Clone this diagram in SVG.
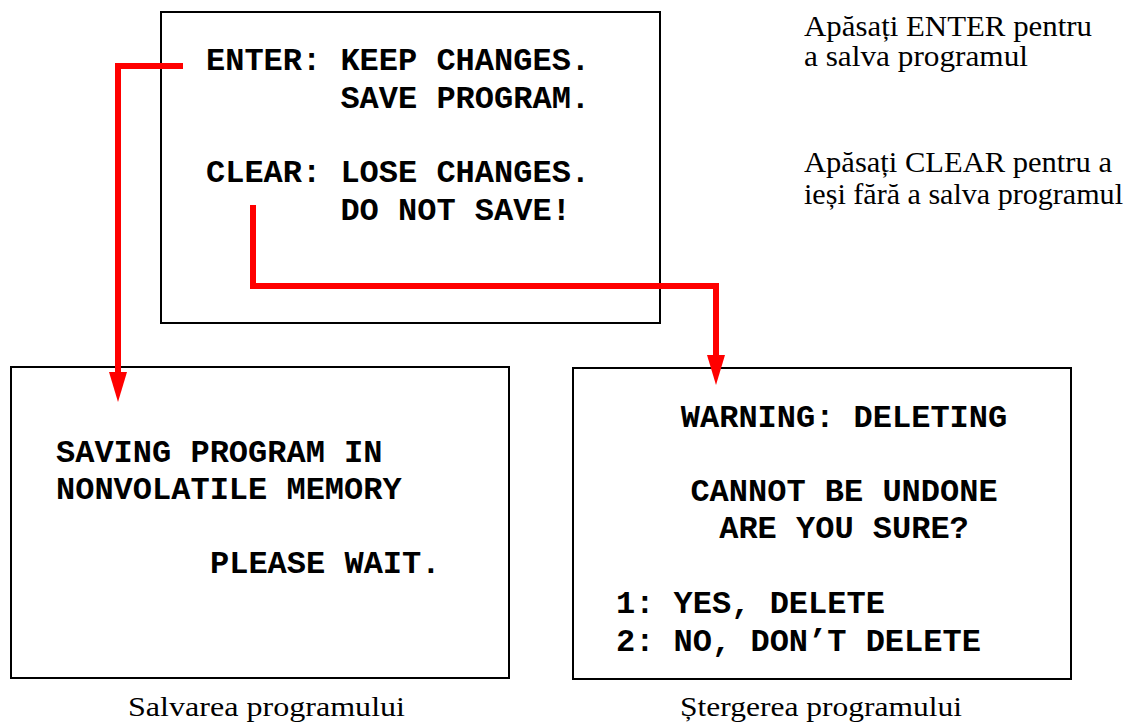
<svg xmlns="http://www.w3.org/2000/svg" width="1140" height="726" viewBox="0 0 1140 726">
<style>
.box{fill:#fff;stroke:#000;stroke-width:2}
.mono{font-family:"Liberation Mono","Courier New",monospace;font-weight:bold;font-size:32px;fill:#000}
.serif{font-family:"Liberation Serif","Times New Roman",serif;font-size:30px;fill:#000}
.cap{font-family:"Liberation Serif","Times New Roman",serif;font-size:28px;fill:#000}
.wire{fill:none;stroke:#ff0000;stroke-width:6;stroke-linejoin:miter;stroke-linecap:butt}
.head{fill:#ff0000}
</style>
<rect width="1140" height="726" fill="#fff"/>
<g id="node-main">
<rect class="box" x="161" y="12" width="499" height="311"/>
<text class="mono" x="206" y="70">ENTER:</text>
<text class="mono" x="340.4" y="70">KEEP CHANGES.</text>
<text class="mono" x="340.4" y="108">SAVE PROGRAM.</text>
<text class="mono" x="206" y="182">CLEAR:</text>
<text class="mono" x="340.4" y="182">LOSE CHANGES.</text>
<text class="mono" x="340.4" y="220">DO NOT SAVE!</text>
</g>
<g id="node-save">
<rect class="box" x="11" y="367" width="498" height="311"/>
<text class="mono" x="56" y="462">SAVING PROGRAM IN</text>
<text class="mono" x="56" y="499">NONVOLATILE MEMORY</text>
<text class="mono" x="210" y="573">PLEASE WAIT.</text>
</g>
<g id="node-delete">
<rect class="box" x="573" y="368" width="498" height="311"/>
<text class="mono" x="844" y="427" text-anchor="middle">WARNING: DELETING</text>
<text class="mono" x="844" y="501" text-anchor="middle">CANNOT BE UNDONE</text>
<text class="mono" x="844" y="538" text-anchor="middle">ARE YOU SURE?</text>
<text class="mono" x="616" y="613">1: YES, DELETE</text>
<text class="mono" x="616" y="651">2: NO, DON’T DELETE</text>
</g>
<g id="notes">
<text class="serif" x="804" y="36" textLength="288" lengthAdjust="spacingAndGlyphs">Apăsați ENTER pentru</text>
<text class="serif" x="804" y="66" textLength="224" lengthAdjust="spacingAndGlyphs">a salva programul</text>
<text class="serif" x="804" y="172" textLength="308" lengthAdjust="spacingAndGlyphs">Apăsați CLEAR pentru a</text>
<text class="serif" x="804" y="204" textLength="319" lengthAdjust="spacingAndGlyphs">ieși fără a salva programul</text>
</g>
<g id="captions">
<text class="cap" x="266.5" y="716" text-anchor="middle" textLength="277" lengthAdjust="spacingAndGlyphs">Salvarea programului</text>
<text class="cap" x="821" y="716" text-anchor="middle" textLength="282" lengthAdjust="spacingAndGlyphs">Ștergerea programului</text>
</g>
<g id="connectors">
<polyline class="wire" points="183,66 118,66 118,373"/>
<polygon class="head" points="109,372 127,372 118,402"/>
<polyline class="wire" points="253,205 253,286 716,286 716,356"/>
<polygon class="head" points="707,355 725,355 716,385"/>
</g>
</svg>
